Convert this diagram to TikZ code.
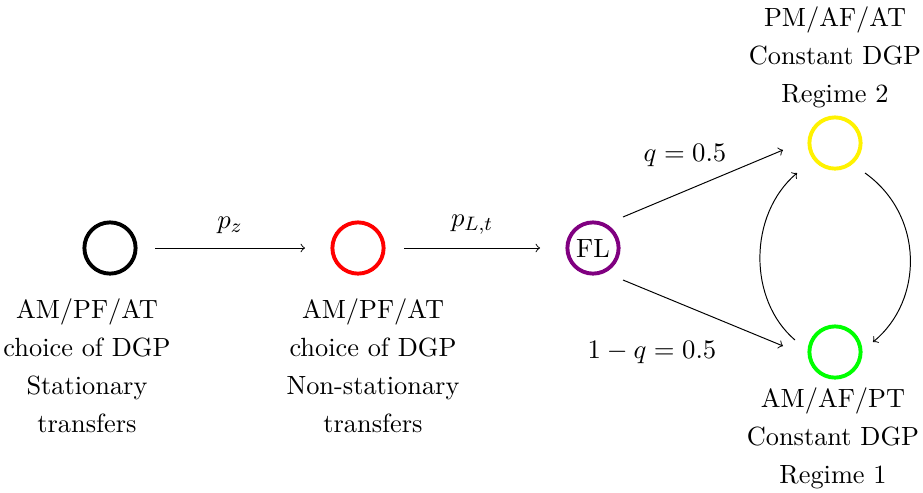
\documentclass[tikz,border=0pt]{standalone}
\usetikzlibrary{calc}
\begin{document}
\begin{tikzpicture}[x=0.41pt,y=-0.41pt,
  every node/.style={font=\fontsize{10.8}{15.6}\selectfont},
  st/.style={circle,ultra thick,minimum size=21pt,inner sep=0pt},
  lbl/.style={align=center},
  ar/.style={->}]
\useasboundingbox (0,0) rectangle (923,492);
\node[st,draw=black] (s) at (110,248) {};
\node[st,draw=red] (n) at (358,248) {};
\node[st,draw=violet] (f) at (593,248) {FL};
\node[st,draw=yellow] (y) at (835,143) {};
\node[st,draw=green] (g) at (835,352) {};

\node[lbl] (ls) at (87,366) {AM/PF/AT\\choice of DGP\\Stationary\\transfers};
\node[lbl] (ln) at (373,366) {AM/PF/AT\\choice of DGP\\Non-stationary\\transfers};
\node[lbl] (ly) at (835,57) {PM/AF/AT\\Constant DGP\\Regime 2};
\node[lbl] (lg) at (833,438) {AM/AF/PT\\Constant DGP\\Regime 1};

\draw[ar] ($(s)+(45,0)$) -- ($(n)+(-53,0)$);
\node (pz) at (230,225) {$p_z$};
\draw[ar] ($(n)+(46,0)$) -- ($(f)+(-53,0)$);
\node (pl) at (472,225) {$p_{L,t}$};

\draw[ar] ($(f)+(30,-31)$) -- ($(y)+(-52,7)$);
\node (q1) at (685,155) {$q=0.5$};
\draw[ar] ($(f)+(30,32)$) -- ($(g)+(-52,-6)$);
\node (q2) at (652,352) {$1-q=0.5$};

\draw[ar] ($(g)+(-40,-12)$) .. controls ($(g)+(-87,-52)$) and ($(y)+(-87,72)$) .. ($(y)+(-38,30)$);
\draw[ar] ($(y)+(30,30)$) .. controls ($(y)+(89,72)$) and ($(g)+(89,-52)$) .. ($(g)+(38,-10)$);
\end{tikzpicture}
\end{document}
